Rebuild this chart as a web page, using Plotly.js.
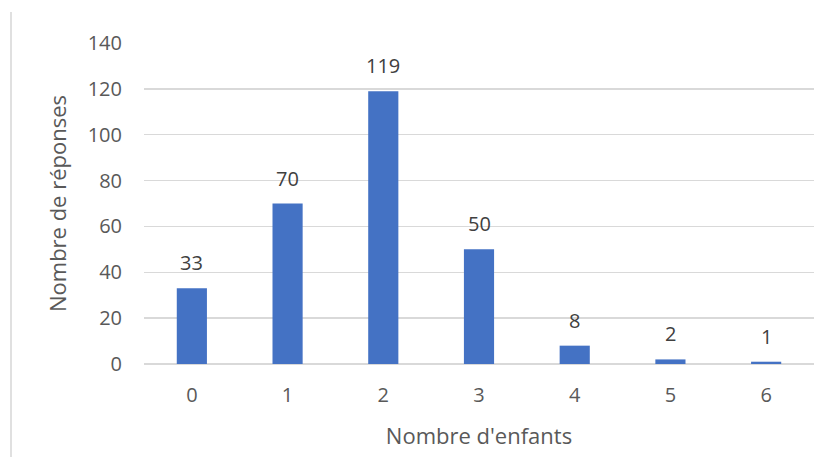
<!DOCTYPE html>
<html><head><meta charset="utf-8">
<script src="https://cdn.plot.ly/plotly-3.0.1.min.js"></script>
<style>
html,body{margin:0;padding:0;background:#fff;}
#chart{width:829px;height:457px;position:relative;}
#edge{position:absolute;left:10px;top:12px;width:2px;height:445px;background:#e0e0e0;z-index:5;}
</style>
</head><body>
<div id="chart"><div id="edge"></div></div>
<script>
const categories = ['0','1','2','3','4','5','6'];
const responses = [33, 70, 119, 50, 8, 2, 1];
const yTicks = [0, 20, 40, 60, 80, 100, 120, 140];
const xTitle = "Nombre d'enfants";
const yTitle = "Nombre de réponses";

const fontFam = '"Open Sans", "Liberation Sans", sans-serif';
const textCol = '#595959';

const labels = categories.map((c, i) => ({
  x: c, y: responses[i], xref: 'x', yref: 'y',
  text: String(responses[i]), showarrow: false,
  yanchor: 'bottom', yshift: 10,
  font: {family: fontFam, size: 20, color: '#404040'}
}));

Plotly.newPlot('chart', [{
  type: 'bar',
  x: categories,
  y: responses,
  marker: {color: '#4472C4'},
  hoverinfo: 'none'
}], {
  width: 829, height: 457,
  margin: {l: 144, r: 15, t: 43, b: 93},
  paper_bgcolor: 'rgba(0,0,0,0)',
  plot_bgcolor: '#fff',
  bargap: 0.685,
  showlegend: false,
  annotations: labels,
  font: {family: fontFam, color: textCol, size: 20},
  xaxis: {
    type: 'category',
    tickfont: {family: fontFam, size: 20, color: textCol},
    ticks: '', showgrid: false, zeroline: false, showline: false,
    ticklabelstandoff: 17,
    title: {text: xTitle, font: {family: fontFam, size: 22, color: textCol}, standoff: 21}
  },
  yaxis: {
    range: [0, 140],
    tickvals: yTicks,
    ticktext: yTicks.map(String),
    tickfont: {family: fontFam, size: 20, color: textCol},
    ticks: '', showgrid: true, gridcolor: '#d9d9d9', gridwidth: 1.3,
    zeroline: true, zerolinecolor: '#d9d9d9', zerolinewidth: 1.3,
    showline: false,
    ticklabelstandoff: 21,
    title: {text: yTitle, font: {family: fontFam, size: 22, color: textCol}, standoff: 14}
  }
}, {displayModeBar: false, staticPlot: true});
</script>
</body></html>
